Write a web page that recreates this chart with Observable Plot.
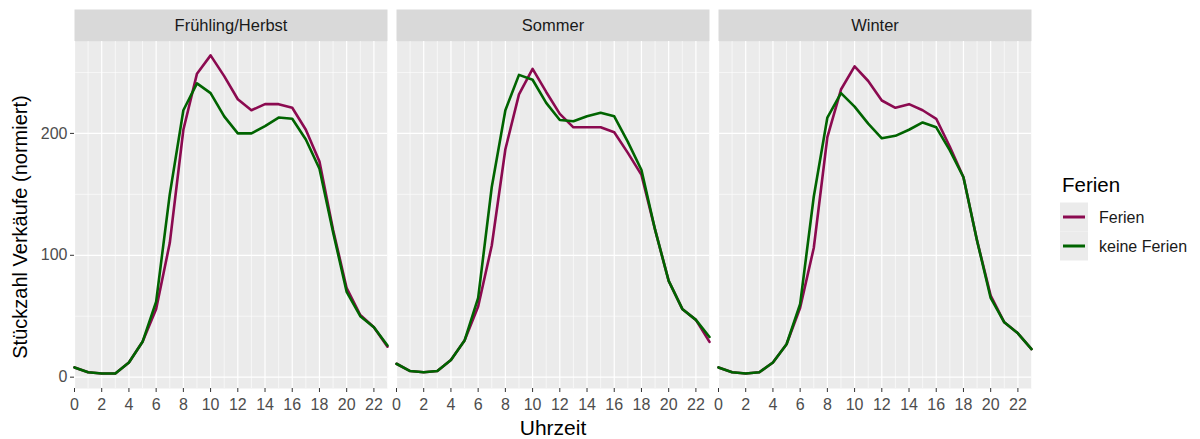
<!DOCTYPE html>
<html>
<head>
<meta charset="utf-8">
<script src="https://cdn.jsdelivr.net/npm/d3@7"></script>
<script src="https://cdn.jsdelivr.net/npm/@observablehq/plot@0.6"></script>
<style>
  html, body { margin: 0; padding: 0; background: #fff; }
  body { font-family: "Liberation Sans", Arial, sans-serif; }
  #wrap { position: relative; width: 1200px; height: 439px; }
  #legend { position: absolute; left: 1040px; top: 150px; }
</style>
</head>
<body>
<div id="wrap"></div>
<script>
const hours = [0,1,2,3,4,5,6,7,8,9,10,11,12,13,14,15,16,17,18,19,20,21,22,23];
const seasons = ["Frühling/Herbst", "Sommer", "Winter"];
const groups = ["Ferien", "keine Ferien"];
const groupColors = ["#8B0A50", "#006400"];
const xTicks = [0,2,4,6,8,10,12,14,16,18,20,22];
const yTicks = [0,100,200];
const yMinor = [50,150,250];

const fhFerien = [8,4,3,3,12,29,56,110,203,249,264,247,228,219,224,224,221,203,177,121,73,51,41,25];
const fhKeine  = [8,4,3,3,12,29,62,150,219,241,233,214,200,200,206,213,212,195,171,119,70,50,41,26];
const soFerien = [11,5,4,5,14,30,58,108,187,232,253,234,216,205,205,205,201,184,166,121,79,56,47,29];
const soKeine  = [11,5,4,5,14,30,65,156,219,248,244,225,211,210,214,217,214,193,170,121,79,56,47,33];
const wiFerien = [8,4,3,4,12,27,57,106,197,236,255,243,227,221,224,219,212,189,164,112,67,45,36,23];
const wiKeine  = [8,4,3,4,12,27,60,148,213,233,222,208,196,198,203,209,205,186,164,112,65,45,36,23];

const series = [
  [seasons[0], groups[0], fhFerien], [seasons[0], groups[1], fhKeine],
  [seasons[1], groups[0], soFerien], [seasons[1], groups[1], soKeine],
  [seasons[2], groups[0], wiFerien], [seasons[2], groups[1], wiKeine]
];
const data = series.flatMap(([season, group, vals]) =>
  vals.map((v, i) => ({season, group, hour: hours[i], value: v})));

const W = 1200, H = 439, mT = 41, mB = 51, mL = 73, mR = 168;
const plotH = H - mT - mB;
const minorX = hours.filter(h => h % 2 === 1);

const chart = Plot.plot({
  width: W, height: H,
  marginLeft: mL, marginRight: mR, marginTop: mT, marginBottom: mB,
  style: {fontFamily: "'Liberation Sans', Arial, sans-serif", background: "transparent"},
  fx: {domain: seasons, paddingInner: 0.0264, paddingOuter: 0, axis: null, label: null},
  x: {domain: [0, 23], label: null},
  y: {domain: [-9.3, 275.4], label: null},
  color: {domain: groups, range: groupColors},
  marks: [
    Plot.frame({fill: "#EBEBEB", stroke: null}),
    Plot.frame({fill: "#D9D9D9", stroke: null, insetTop: plotH - 32, dy: -plotH}),
    Plot.ruleX(minorX, {stroke: "white", strokeWidth: 0.6}),
    Plot.ruleY(yMinor, {stroke: "white", strokeWidth: 0.6}),
    Plot.ruleX(xTicks, {stroke: "white", strokeWidth: 1.2}),
    Plot.ruleY(yTicks, {stroke: "white", strokeWidth: 1.2}),
    Plot.text(seasons, {fx: d => d, text: d => d, frameAnchor: "top", dy: -16, lineAnchor: "middle", fontSize: 16.5, fill: "#1A1A1A"}),
    Plot.line(data, {fx: "season", x: "hour", y: "value", stroke: "group", z: "group", strokeWidth: 2.6, strokeLinejoin: "round"}),
    Plot.axisY({ticks: yTicks, tickSize: 4, tickPadding: 3, fontSize: 16, stroke: "#333", fill: "#4D4D4D", label: null}),
    Plot.axisX({ticks: xTicks, tickSize: 4, tickPadding: 6, fontSize: 16, stroke: "#333", fill: "#4D4D4D", label: null}),
    Plot.text(["Stückzahl Verkäufe (normiert)"], {fx: () => seasons[0], text: d => d, frameAnchor: "left", textAnchor: "middle", rotate: -90, dx: -54, dy: 12, lineAnchor: "middle", fontSize: 20, fill: "#000"}),
    Plot.text(["Uhrzeit"], {fx: () => seasons[1], text: d => d, frameAnchor: "bottom", dy: 40, lineAnchor: "middle", fontSize: 21, fill: "#000"})
  ]
});
const wrap = document.getElementById("wrap");
wrap.appendChild(chart);

// Legend (positions relative to the 1200x439 picture, offset by the container)
const lx = 1040, ly = 150;
const legend = d3.create("svg").attr("id", "legend").attr("width", 160).attr("height", 120)
  .style("font-family", "'Liberation Sans', Arial, sans-serif");
legend.append("text").attr("x", 1062 - lx).attr("y", 192 - ly).attr("font-size", 20.5).attr("fill", "#000").text("Ferien");
groups.forEach((g, i) => {
  const cy = [217, 246][i];
  legend.append("rect").attr("x", 1060 - lx).attr("y", cy - 14.5 - ly).attr("width", 28).attr("height", 29).attr("fill", "#EBEBEB");
  legend.append("line").attr("x1", 1063 - lx).attr("x2", 1085 - lx).attr("y1", cy - ly).attr("y2", cy - ly)
    .attr("stroke", groupColors[i]).attr("stroke-width", 3);
  legend.append("text").attr("x", 1099 - lx).attr("y", cy - ly).attr("dy", "0.35em").attr("font-size", 16).attr("fill", "#1A1A1A").text(g);
});
wrap.appendChild(legend.node());
</script>
</body>
</html>
